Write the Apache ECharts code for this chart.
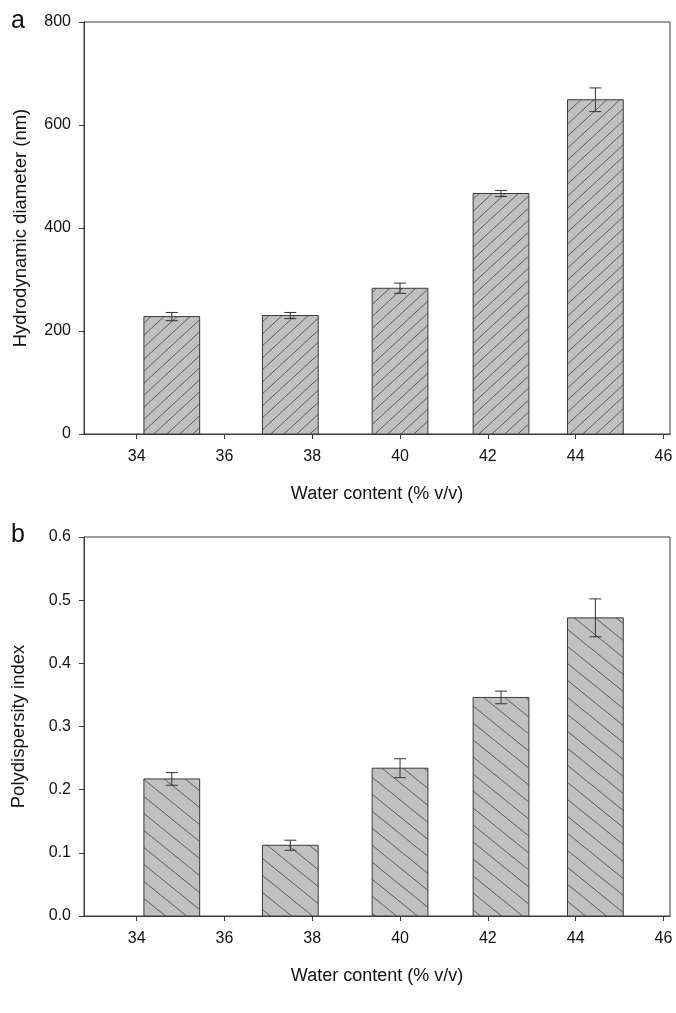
<!DOCTYPE html>
<html>
<head>
<meta charset="utf-8">
<script src="https://cdn.jsdelivr.net/npm/echarts@6/dist/echarts.min.js"></script>
<style>
html,body{margin:0;padding:0;background:#fff;}
#chart{width:676px;height:1013px;}
</style>
</head>
<body>
<div id="chart"></div>
<script>
// ---- data ----
const waterContent = [34.8, 37.5, 40.0, 42.3, 44.45];
const diameter = [228, 230, 283, 467, 649];
const diameterErr = [8, 6, 10, 6, 23];
const pdi = [0.217, 0.112, 0.234, 0.346, 0.472];
const pdiErr = [0.010, 0.008, 0.015, 0.010, 0.030];
const xTicks = [34, 36, 38, 40, 42, 44, 46];
const yTicksTop = [0, 200, 400, 600, 800];
const yTicksBottom = [0, 0.1, 0.2, 0.3, 0.4, 0.5, 0.6];

// ---- style ----
const BAR_W = 1.27;
const FONT = 'Liberation Sans, Arial, sans-serif';
const AX = '#3a3a3a';

function makePattern(W, H, dir) {
  const c = document.createElement('canvas');
  c.width = W; c.height = H;
  const g = c.getContext('2d');
  g.fillStyle = '#c0c0c0';
  g.fillRect(0, 0, W, H);
  g.strokeStyle = '#505050';
  g.lineWidth = 0.9;
  for (const off of [-W, 0, W]) {
    g.beginPath();
    if (dir === '/') {
      g.moveTo(off - W, 2 * H);
      g.lineTo(off + 2 * W, -H);
    } else {
      g.moveTo(off - W, -H);
      g.lineTo(off + 2 * W, 2 * H);
    }
    g.stroke();
  }
  return c;
}
const patTop = makePattern(13, 12, '/');
const patBottom = makePattern(21, 17, '\\');

function barRenderer(pattern) {
  return function (params, api) {
    const x = api.value(0), y = api.value(1);
    const p0 = api.coord([x - BAR_W / 2, 0]);
    const p1 = api.coord([x + BAR_W / 2, y]);
    return {
      type: 'rect',
      shape: { x: p0[0], y: p1[1], width: p1[0] - p0[0], height: p0[1] - p1[1] },
      style: { fill: { image: pattern, repeat: 'repeat' }, stroke: AX, lineWidth: 1 }
    };
  };
}
function errRenderer(params, api) {
  const x = api.value(0), y = api.value(1), e = api.value(2);
  const hi = api.coord([x, y + e]);
  const lo = api.coord([x, y - e]);
  const cap = 6;
  const st = { stroke: '#333', lineWidth: 1 };
  return {
    type: 'group',
    children: [
      { type: 'line', shape: { x1: hi[0], y1: hi[1], x2: lo[0], y2: lo[1] }, style: st },
      { type: 'line', shape: { x1: hi[0] - cap, y1: hi[1], x2: hi[0] + cap, y2: hi[1] }, style: st },
      { type: 'line', shape: { x1: lo[0] - cap, y1: lo[1], x2: lo[0] + cap, y2: lo[1] }, style: st }
    ]
  };
}

function xAxisDef(gi) {
  return {
    type: 'value', gridIndex: gi, min: 32.8, max: 46.15,
    name: 'Water content (% v/v)', nameLocation: 'middle', nameGap: 29,
    nameTextStyle: { fontFamily: FONT, fontSize: 18, color: '#111', padding: [22, 0, 0, 0] },
    axisLine: { show: true, onZero: false, lineStyle: { color: AX, width: 1 } },
    axisTick: { show: true, length: 5, customValues: xTicks, lineStyle: { color: AX } },
    axisLabel: { customValues: xTicks, fontFamily: FONT, fontSize: 16, color: '#111', margin: 15 },
    splitLine: { show: false }
  };
}
function yAxisDef(gi, name, max, interval, decimals, gap) {
  return {
    type: 'value', gridIndex: gi, min: 0, max: max, interval: interval,
    name: name, nameLocation: 'middle', nameGap: gap,
    nameTextStyle: { fontFamily: FONT, fontSize: 18.5, color: '#111' },
    axisLine: { show: true, lineStyle: { color: AX, width: 1 } },
    axisTick: { show: true, length: 5, lineStyle: { color: AX } },
    axisLabel: { fontFamily: FONT, fontSize: 16, color: '#111', margin: 13,
      formatter: v => v.toFixed(decimals) },
    splitLine: { show: false }
  };
}

const chart = echarts.init(document.getElementById('chart'), null, { renderer: 'canvas' });
chart.setOption({
  backgroundColor: '#fff',
  animation: false,
  grid: [
    { left: 84, right: 6, top: 22, height: 412, show: true, borderColor: AX, borderWidth: 1, backgroundColor: 'transparent' },
    { left: 84, right: 6, top: 537, height: 379, show: true, borderColor: AX, borderWidth: 1, backgroundColor: 'transparent' }
  ],
  xAxis: [xAxisDef(0), xAxisDef(1)],
  yAxis: [
    yAxisDef(0, 'Hydrodynamic diameter (nm)', 800, 200, 0, 54),
    yAxisDef(1, 'Polydispersity index', 0.6, 0.1, 1, 56)
  ],
  graphic: [
    { type: 'text', left: 11, top: 9, style: { text: 'a', font: '25px ' + FONT, fill: '#111' } },
    { type: 'text', left: 11, top: 523, style: { text: 'b', font: '25px ' + FONT, fill: '#111' } }
  ],
  series: [
    { type: 'custom', xAxisIndex: 0, yAxisIndex: 0, renderItem: barRenderer(patTop),
      data: waterContent.map((x, i) => [x, diameter[i]]), z: 2 },
    { type: 'custom', xAxisIndex: 0, yAxisIndex: 0, renderItem: errRenderer,
      data: waterContent.map((x, i) => [x, diameter[i], diameterErr[i]]), z: 3 },
    { type: 'custom', xAxisIndex: 1, yAxisIndex: 1, renderItem: barRenderer(patBottom),
      data: waterContent.map((x, i) => [x, pdi[i]]), z: 2 },
    { type: 'custom', xAxisIndex: 1, yAxisIndex: 1, renderItem: errRenderer,
      data: waterContent.map((x, i) => [x, pdi[i], pdiErr[i]]), z: 3 }
  ]
});
</script>
</body>
</html>
